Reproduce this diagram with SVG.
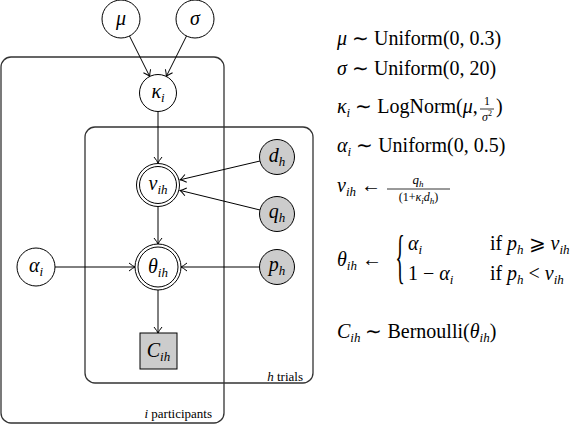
<svg xmlns="http://www.w3.org/2000/svg" width="570" height="425" viewBox="0 0 570 425">
<style>
text{fill:#000}
.i{font-style:italic}
.n{fill:#fff;stroke:#000;stroke-width:1}
.o{fill:#cccccc;stroke:#000;stroke-width:1}
.plate{fill:none;stroke:#333;stroke-width:1.3}
.e{stroke:#000;stroke-width:1;fill:none;marker-end:url(#ah)}
.nl{font-size:20px;text-anchor:middle}
.eq{font-size:20px}
.s{font-size:13px}
.pl{font-size:13px;text-anchor:end}
</style>
<defs>
<marker id="ah" markerUnits="userSpaceOnUse" markerWidth="12" markerHeight="12" viewBox="-7 -6 8 12" refX="0" refY="0" orient="auto">
<path d="M-6,-4 Q-2,-0.8 0,0 Q-2,0.8 -6,4" fill="none" stroke="#000" stroke-width="1"/>
</marker>
</defs>
<g font-family="Liberation Serif, serif">
<g id="plate-participants"><rect class="plate" x="1" y="57" width="223" height="366" rx="10"/><text class="pl" x="212" y="418"><tspan class="i">i</tspan> participants</text></g>
<g id="plate-trials"><rect class="plate" x="85" y="127" width="228" height="256" rx="10"/><text class="pl" x="303" y="381"><tspan class="i">h</tspan> trials</text></g>
<g id="connectors">
<line class="e" x1="129.5" y1="36" x2="149.7" y2="76.4"/>
<line class="e" x1="186.5" y1="36" x2="166.3" y2="76.4"/>
<line class="e" x1="158" y1="111.5" x2="158" y2="163"/>
<line class="e" x1="260" y1="161" x2="180" y2="179.8"/>
<line class="e" x1="260" y1="210" x2="180" y2="190.4"/>
<line class="e" x1="158" y1="206" x2="158" y2="244"/>
<line class="e" x1="55" y1="267" x2="135" y2="267"/>
<line class="e" x1="259.5" y1="267" x2="181" y2="267"/>
<line class="e" x1="158" y1="290" x2="158" y2="333"/>
</g>
<g id="mu"><circle class="n" cx="121" cy="19" r="19"/><text class="nl i" x="121" y="25">μ</text></g>
<g id="sigma"><circle class="n" cx="195" cy="19" r="19"/><text class="nl i" x="195" y="25">σ</text></g>
<g id="kappa"><circle class="n" cx="158" cy="93" r="18.5"/><text class="nl" x="158" y="98"><tspan class="i">κ</tspan><tspan class="i s" dy="4">i</tspan></text></g>
<g id="v"><circle class="n" cx="158" cy="185" r="21.5"/><circle class="n" cx="158" cy="185" r="18.5"/><text class="nl" x="158" y="190"><tspan class="i">v</tspan><tspan class="i s" dy="4">ih</tspan></text></g>
<g id="d"><circle class="o" cx="277" cy="157" r="17.5"/><text class="nl" x="277" y="162"><tspan class="i">d</tspan><tspan class="i s" dy="4">h</tspan></text></g>
<g id="q"><circle class="o" cx="277" cy="214" r="17.5"/><text class="nl" x="277" y="218"><tspan class="i">q</tspan><tspan class="i s" dy="4">h</tspan></text></g>
<g id="theta"><circle class="n" cx="158" cy="267" r="23"/><circle class="n" cx="158" cy="267" r="20"/><text class="nl" x="158" y="273"><tspan class="i">θ</tspan><tspan class="i s" dy="4">ih</tspan></text></g>
<g id="alpha"><circle class="n" cx="36" cy="267" r="19"/><text class="nl" x="36" y="272"><tspan class="i">α</tspan><tspan class="i s" dy="4">i</tspan></text></g>
<g id="p"><circle class="o" cx="277" cy="267" r="17.5"/><text class="nl" x="277" y="271"><tspan class="i">p</tspan><tspan class="i s" dy="4">h</tspan></text></g>
<g id="C"><rect class="o" x="140" y="333" width="37" height="36"/><text class="nl" x="158.5" y="357"><tspan class="i">C</tspan><tspan class="i s" dy="4">ih</tspan></text></g>
<g id="equations">
<text class="eq" x="337" y="45"><tspan class="i">μ</tspan> ∼ Uniform(0, 0.3)</text>
<text class="eq" x="337" y="75"><tspan class="i">σ</tspan> ∼ Uniform(0, 20)</text>
<text class="eq" x="337" y="113"><tspan class="i">κ</tspan><tspan class="i s" dy="4">i</tspan><tspan dy="-4"> ∼ LogNorm(</tspan><tspan class="i">μ</tspan>,</text>
<g id="frac-sigma">
<text x="487" y="105" style="font-size:12px" text-anchor="middle">1</text>
<line x1="480" y1="109" x2="494" y2="109" stroke="#000" stroke-width="0.8"/>
<text x="487" y="121" style="font-size:12px" text-anchor="middle"><tspan class="i">σ</tspan><tspan style="font-size:8px" dy="-5">2</tspan></text>
</g>
<text class="eq" x="496" y="113">)</text>
<text class="eq" x="337" y="152"><tspan class="i">α</tspan><tspan class="i s" dy="4">i</tspan><tspan dy="-4"> ∼ Uniform(0, 0.5)</tspan></text>
<text class="eq" x="337" y="192"><tspan class="i">v</tspan><tspan class="i s" dy="4">ih</tspan><tspan dy="-4"> ←</tspan></text>
<text x="418" y="184" style="font-size:13px" text-anchor="middle"><tspan class="i">q</tspan><tspan class="i" style="font-size:9px" dy="3">h</tspan></text>
<line x1="387" y1="189" x2="450" y2="189" stroke="#000" stroke-width="0.8"/>
<text x="418.5" y="201" style="font-size:12px" text-anchor="middle">(1+<tspan class="i">κ</tspan><tspan class="i" style="font-size:9px" dy="3">i</tspan><tspan class="i" dy="-3">d</tspan><tspan class="i" style="font-size:9px" dy="3">h</tspan><tspan dy="-3">)</tspan></text>
<text class="eq" x="337" y="266"><tspan class="i">θ</tspan><tspan class="i s" dy="4">ih</tspan><tspan dy="-4"> ←</tspan></text>
<text x="0" y="5" style="font-size:20px" text-anchor="middle" transform="translate(400,261) scale(1,3)">{</text>
<text class="eq" x="408" y="250"><tspan class="i">α</tspan><tspan class="i s" dy="4">i</tspan></text>
<text class="eq" x="490" y="250">if</text>
<text class="eq" x="507" y="250"><tspan class="i">p</tspan><tspan class="i s" dy="4">h</tspan><tspan dy="-4"> ⩾ </tspan><tspan class="i">v</tspan><tspan class="i s" dy="4">ih</tspan></text>
<text class="eq" x="408" y="280">1 − <tspan class="i">α</tspan><tspan class="i s" dy="4">i</tspan></text>
<text class="eq" x="490" y="280">if</text>
<text class="eq" x="507" y="280"><tspan class="i">p</tspan><tspan class="i s" dy="4">h</tspan><tspan dy="-4"> &lt; </tspan><tspan class="i">v</tspan><tspan class="i s" dy="4">ih</tspan></text>
<text class="eq" x="337" y="338"><tspan class="i">C</tspan><tspan class="i s" dy="4">ih</tspan><tspan dy="-4"> ∼ Bernoulli(</tspan><tspan class="i">θ</tspan><tspan class="i s" dy="4">ih</tspan><tspan dy="-4">)</tspan></text>
</g>
</g>
</svg>
